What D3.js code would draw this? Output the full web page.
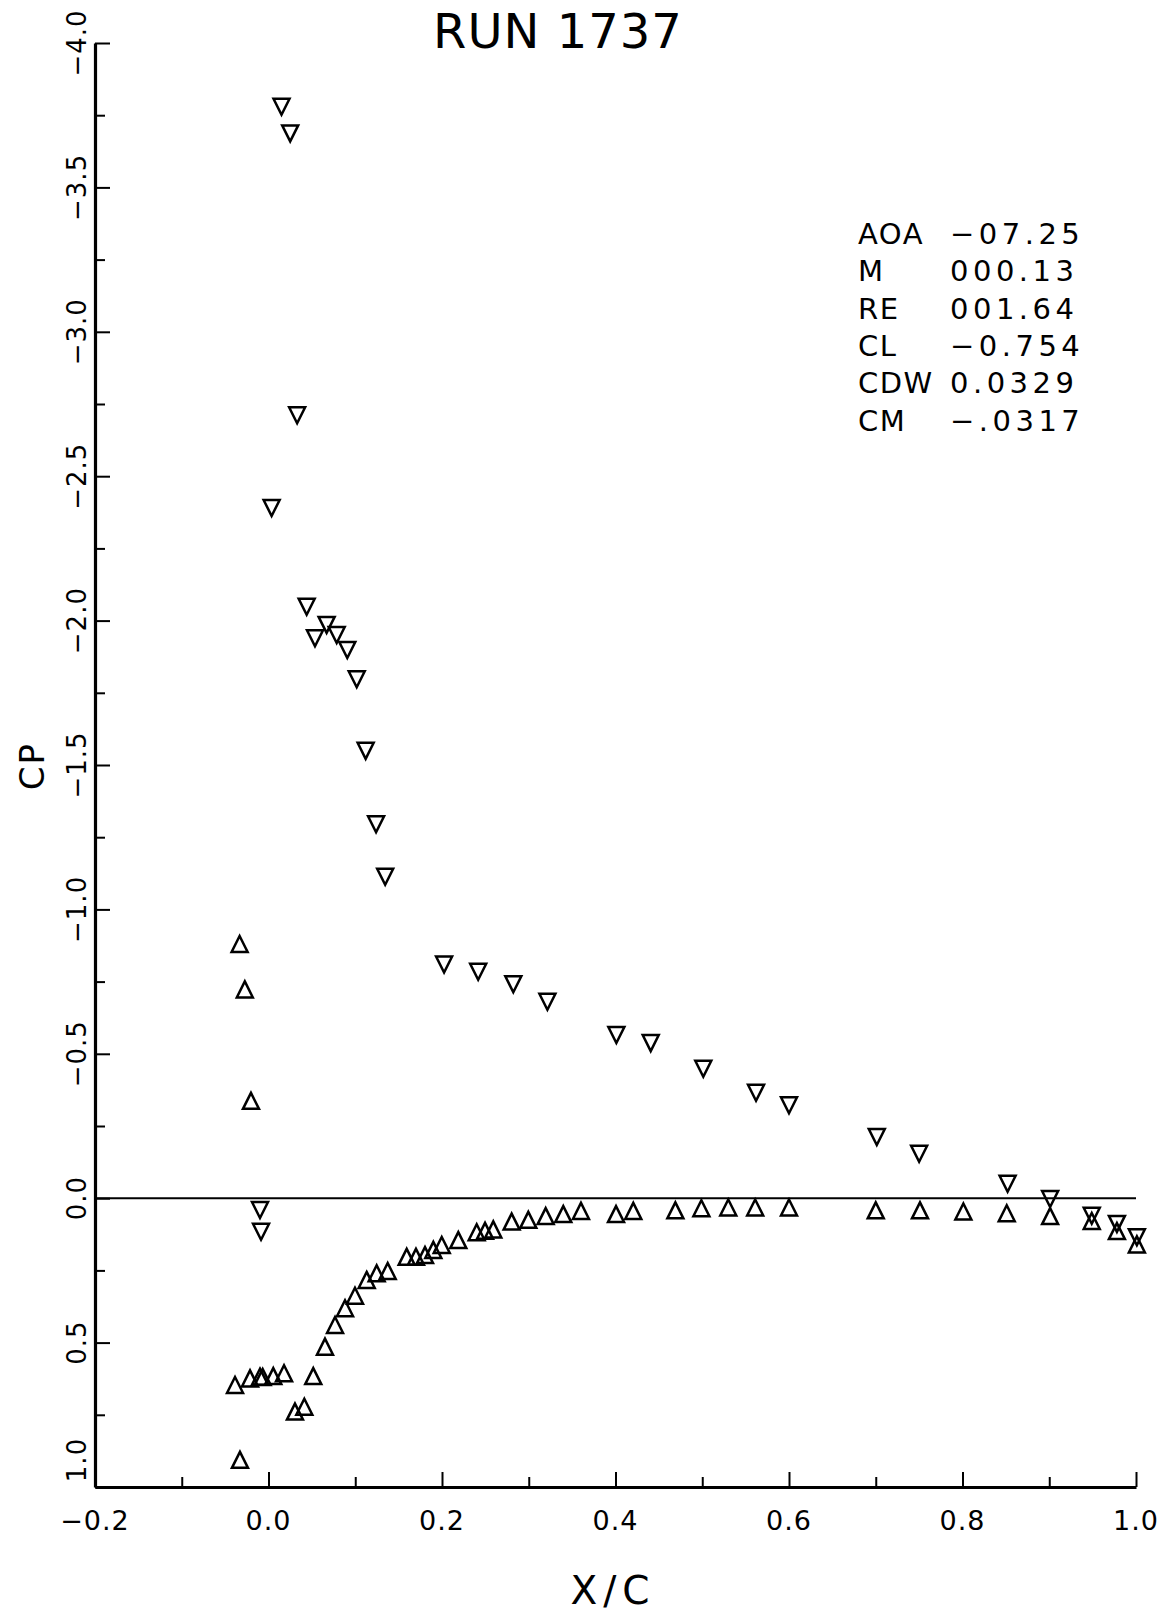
<!DOCTYPE html>
<html>
<head>
<meta charset="utf-8">
<script src="https://cdn.jsdelivr.net/npm/d3@7/dist/d3.min.js"></script>
<style>
  html, body { margin: 0; padding: 0; background: #fff; }
  svg { display: block; }
  text { font-family: "DejaVu Sans", sans-serif; fill: #000; }
</style>
</head>
<body>
<svg id="chart" width="1166" height="1619"></svg>
<script>
// ---- data ----
const titleText = "RUN 1737";
const xLabel = "X/C";
const yLabel = "CP";

const xMajorTicks = [-0.2, 0.0, 0.2, 0.4, 0.6, 0.8, 1.0];
const xMinorTicks = [-0.1, 0.1, 0.3, 0.5, 0.7, 0.9];
const xTickLabels = ["\u22120.2", "0.0", "0.2", "0.4", "0.6", "0.8", "1.0"];

const yMajorTicks = [-4.0, -3.5, -3.0, -2.5, -2.0, -1.5, -1.0, -0.5, 0.0, 0.5, 1.0];
const yMinorTicks = [-3.75, -3.25, -2.75, -2.25, -1.75, -1.25, -0.75, -0.25, 0.25, 0.75];
const yTickLabels = ["\u22124.0", "\u22123.5", "\u22123.0", "\u22122.5", "\u22122.0", "\u22121.5",
                     "\u22121.0", "\u22120.5", "0.0", "0.5", "1.0"];

// upper surface (inverted triangles)
const upperX = [-0.0098, -0.0086, 0.0036, 0.015, 0.025, 0.033, 0.044, 0.0536, 0.067, 0.0786,
                0.0908, 0.1017, 0.112, 0.124, 0.1345, 0.2024, 0.2417, 0.2822, 0.3215, 0.401,
                0.4406, 0.5012, 0.562, 0.600, 0.7012, 0.750, 0.852, 0.901, 0.949, 0.978, 1.001];
const upperCP = [0.041, 0.116, -2.390, -3.779, -3.687, -2.711, -2.048, -1.939, -1.985, -1.950,
                 -1.898, -1.797, -1.549, -1.295, -1.113, -0.809, -0.784, -0.741, -0.680, -0.565,
                 -0.537, -0.448, -0.365, -0.322, -0.212, -0.154, -0.050, 0.003, 0.061, 0.089, 0.135];

// lower surface (upright triangles)
const lowerX = [-0.0386, -0.0333, -0.0329, -0.0273, -0.0213, -0.0202, -0.0098, -0.0067, 0.0055, 0.0179,
                0.0305, 0.0413, 0.0516, 0.0651, 0.0767, 0.0882, 0.0997, 0.1132, 0.1247, 0.1374,
                0.1593, 0.170, 0.1804, 0.190, 0.1997, 0.2188, 0.240, 0.2496, 0.2591, 0.2803,
                0.2995, 0.3195, 0.3398, 0.3602, 0.4006, 0.4205, 0.469, 0.499, 0.530, 0.561,
                0.600, 0.700, 0.751, 0.801, 0.851, 0.901, 0.949, 0.978, 1.001];
const lowerCP = [0.647, -0.880, 0.906, -0.723, 0.624, -0.337, 0.618, 0.619, 0.616, 0.606,
                 0.739, 0.722, 0.616, 0.514, 0.439, 0.381, 0.338, 0.283, 0.260, 0.252,
                 0.203, 0.203, 0.197, 0.179, 0.162, 0.145, 0.118, 0.113, 0.108, 0.081,
                 0.075, 0.062, 0.055, 0.044, 0.055, 0.044, 0.042, 0.035, 0.032, 0.032,
                 0.032, 0.042, 0.042, 0.046, 0.052, 0.062, 0.079, 0.114, 0.160];

const zeroLineX = [-0.2, 1.0];
const zeroLineCP = [0.0, 0.0];

const infoLabels = ["AOA", "M", "RE", "CL", "CDW", "CM"];
const infoValues = ["\u221207.25", "000.13", "001.64", "\u22120.754", "0.0329", "\u2212.0317"];

// ---- drawing ----
const svg = d3.select("#chart");
const x = d3.scaleLinear().domain([-0.2, 1.0]).range([95, 1136]);
const y = d3.scaleLinear().domain([-4.0, 1.0]).range([43, 1487]);

// title
svg.append("text").attr("x", 558).attr("y", 48).attr("text-anchor", "middle")
  .style("font-size", "48px").style("letter-spacing", "1px").text(titleText);

// y axis
const yAxisG = svg.append("g").attr("transform", `translate(${x(-0.2)},0)`)
  .call(d3.axisRight(y).tickValues(yMajorTicks).tickSize(15).tickSizeOuter(0).tickFormat(""));
yAxisG.select(".domain").attr("stroke-width", 3.2);
yAxisG.selectAll(".tick line").attr("stroke-width", 2);
const yMinorG = svg.append("g").attr("transform", `translate(${x(-0.2)},0)`)
  .call(d3.axisRight(y).tickValues(yMinorTicks).tickSize(10).tickSizeOuter(0).tickFormat(""));
yMinorG.select(".domain").remove();
yMinorG.selectAll(".tick line").attr("stroke-width", 2);

// the bottom label is lifted off the x axis, as in the original plot
const yDomainMax = y.domain()[1];
svg.append("g").selectAll("text").data(yMajorTicks).join("text")
  .attr("transform", (d) => `translate(${x(-0.2) - 9},${y(d) - (d === yDomainMax ? 27 : 0)}) rotate(-90)`)
  .attr("text-anchor", "middle")
  .style("font-size", "26px").style("letter-spacing", "1px")
  .text((d, i) => yTickLabels[i]);

// x axis
const xAxisG = svg.append("g").attr("transform", `translate(0,${y(1.0)})`)
  .call(d3.axisTop(x).tickValues(xMajorTicks).tickSize(15).tickSizeOuter(0).tickFormat(""));
xAxisG.select(".domain").attr("stroke-width", 3.2);
xAxisG.selectAll(".tick line").attr("stroke-width", 2);
const xMinorG = svg.append("g").attr("transform", `translate(0,${y(1.0)})`)
  .call(d3.axisTop(x).tickValues(xMinorTicks).tickSize(10).tickSizeOuter(0).tickFormat(""));
xMinorG.select(".domain").remove();
xMinorG.selectAll(".tick line").attr("stroke-width", 2);

svg.append("g").selectAll("text").data(xMajorTicks).join("text")
  .attr("x", (d) => x(d)).attr("y", y(1.0) + 43)
  .attr("text-anchor", "middle")
  .style("font-size", "27px").style("letter-spacing", "1px")
  .text((d, i) => xTickLabels[i]);

// axis titles
svg.append("text").attr("transform", "translate(44,766) rotate(-90)")
  .attr("text-anchor", "middle").style("font-size", "34px").style("letter-spacing", "2px")
  .text(yLabel);
svg.append("text").attr("x", 613).attr("y", 1604).attr("text-anchor", "middle")
  .style("font-size", "39px").style("letter-spacing", "6px").text(xLabel);

// zero line
const zeroData = zeroLineX.map((v, i) => [v, zeroLineCP[i]]);
svg.append("path").datum(zeroData)
  .attr("d", d3.line().x((d) => x(d[0])).y((d) => y(d[1])))
  .attr("fill", "none").attr("stroke", "#000").attr("stroke-width", 2);

// markers
const triDown = { draw(ctx, size) { const r = Math.sqrt(size) / 2;
  ctx.moveTo(-r, -r); ctx.lineTo(r, -r); ctx.lineTo(0, r); ctx.closePath(); } };
const triUp = { draw(ctx, size) { const r = Math.sqrt(size) / 2;
  ctx.moveTo(0, -r); ctx.lineTo(r, r); ctx.lineTo(-r, r); ctx.closePath(); } };

const upperData = upperX.map((v, i) => [v, upperCP[i]]);
const lowerData = lowerX.map((v, i) => [v, lowerCP[i]]);

svg.append("g").selectAll("path").data(lowerData).join("path")
  .attr("transform", (d) => `translate(${x(d[0])},${y(d[1])})`)
  .attr("d", d3.symbol().type(triUp).size(256))
  .attr("fill", "none").attr("stroke", "#000").attr("stroke-width", 2.5)
  .attr("stroke-linejoin", "miter");
svg.append("g").selectAll("path").data(upperData).join("path")
  .attr("transform", (d) => `translate(${x(d[0])},${y(d[1])})`)
  .attr("d", d3.symbol().type(triDown).size(256))
  .attr("fill", "none").attr("stroke", "#000").attr("stroke-width", 2.5)
  .attr("stroke-linejoin", "miter");

// info block
const info = svg.append("g");
info.selectAll("text.lab").data(infoLabels).join("text").attr("class", "lab")
  .attr("x", 858).attr("y", (d, i) => 244 + i * 37.3)
  .style("font-size", "29px").style("letter-spacing", "1.5px").text((d) => d);
info.selectAll("text.val").data(infoValues).join("text").attr("class", "val")
  .attr("x", 950).attr("y", (d, i) => 244 + i * 37.3)
  .style("font-size", "29px").style("letter-spacing", "4.5px").text((d) => d);
</script>
</body>
</html>
